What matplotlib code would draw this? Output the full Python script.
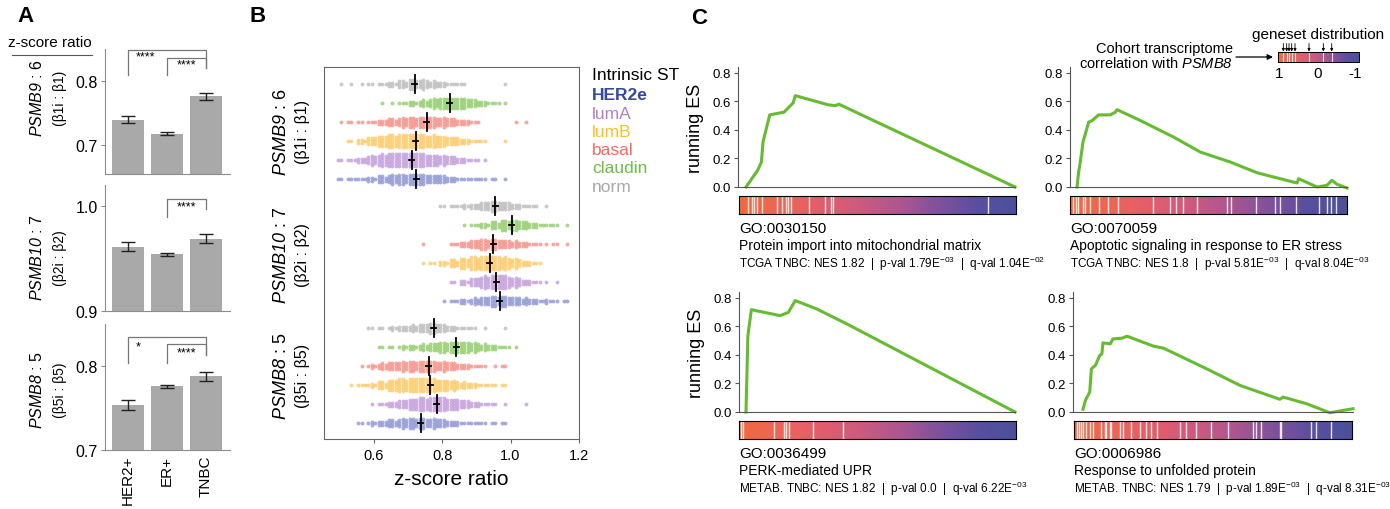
import numpy as np
import matplotlib
matplotlib.use('Agg')
import matplotlib.pyplot as plt
from matplotlib.colors import LinearSegmentedColormap

plt.rcParams['font.family'] = ['Liberation Sans', 'DejaVu Sans']
plt.rcParams['mathtext.fontset'] = 'custom'
plt.rcParams['mathtext.rm'] = 'Liberation Sans'
plt.rcParams['mathtext.it'] = 'Liberation Sans:italic'
plt.rcParams['mathtext.sf'] = 'Liberation Sans:italic'   # used for gene names (italic digits too)
plt.rcParams['mathtext.bf'] = 'Liberation Sans:bold'

W, H = 1390, 510

# ---------------- panel A data (mean z-score ratio +/- sem)
groups_a = ['HER2+', 'ER+', 'TNBC']
psmb9_mean = [0.740, 0.718, 0.776]
psmb9_err = [0.0055, 0.002, 0.005]
psmb10_mean = [0.9615, 0.954, 0.969]
psmb10_err = [0.004, 0.0015, 0.004]
psmb8_mean = [0.754, 0.776, 0.788]
psmb8_err = [0.006, 0.002, 0.005]
sig_a = [[(0, 2, '****'), (1, 2, '****')],
         [(1, 2, '****')],
         [(0, 2, '*'), (1, 2, '****')]]

# ---------------- panel B data (beeswarm, counts per 0.03-wide bin from 0.49)
subtypes = ['norm', 'claudin', 'basal', 'lumB', 'lumA', 'HER2e']   # top -> bottom
bin_lo, bin_w = 0.49, 0.03
counts_psmb9 = [
    [1, 1, 1, 2, 3, 5, 8, 11, 10, 7, 5, 3, 2, 0, 0, 0, 1, 0, 0, 0, 0, 0, 0, 0],
    [0, 0, 0, 0, 1, 1, 3, 5, 7, 10, 12, 12, 11, 8, 5, 3, 1, 0, 0, 0, 0, 0, 0, 0],
    [1, 2, 2, 3, 6, 8, 10, 11, 12, 11, 10, 8, 6, 3, 0, 0, 0, 1, 1, 0, 0, 0, 0, 0],
    [0, 2, 5, 9, 12, 14, 15, 15, 14, 13, 11, 9, 6, 3, 2, 0, 1, 0, 0, 0, 0, 0, 0, 0],
    [2, 3, 6, 10, 13, 15, 15, 15, 14, 12, 10, 8, 5, 3, 1, 0, 0, 0, 0, 0, 0, 0, 0, 0],
    [2, 3, 3, 5, 8, 10, 11, 12, 11, 9, 8, 5, 3, 3, 2, 2, 1, 0, 0, 0, 0, 0, 0, 0],
]
counts_psmb10 = [
    [0, 0, 0, 0, 0, 0, 0, 0, 0, 0, 2, 3, 4, 6, 9, 11, 9, 6, 3, 2, 1, 0, 0, 0],
    [0, 0, 0, 0, 0, 0, 0, 0, 0, 0, 0, 0, 1, 3, 5, 8, 11, 11, 8, 5, 3, 2, 1, 0],
    [0, 0, 0, 0, 0, 0, 0, 0, 1, 0, 0, 3, 6, 9, 11, 11, 9, 7, 5, 3, 1, 2, 1, 0],
    [0, 0, 0, 0, 0, 0, 0, 0, 1, 2, 5, 8, 11, 14, 15, 15, 13, 10, 6, 3, 0, 0, 0, 0],
    [0, 0, 0, 0, 0, 0, 0, 0, 0, 0, 0, 2, 5, 9, 13, 15, 14, 10, 6, 3, 1, 1, 0, 0],
    [0, 0, 0, 0, 0, 0, 0, 0, 0, 0, 1, 3, 5, 7, 9, 11, 11, 9, 7, 5, 4, 2, 2, 0],
]
counts_psmb8 = [
    [0, 0, 0, 2, 2, 4, 6, 7, 9, 11, 8, 5, 3, 2, 1, 0, 1, 0, 0, 0, 0, 0, 0, 0],
    [0, 0, 0, 0, 2, 2, 4, 5, 7, 9, 11, 12, 12, 10, 7, 5, 3, 1, 0, 0, 0, 0, 0, 0],
    [0, 0, 1, 4, 7, 9, 10, 11, 12, 11, 10, 8, 6, 3, 2, 1, 2, 0, 0, 0, 0, 0, 0, 0],
    [0, 1, 3, 4, 8, 12, 14, 15, 15, 14, 12, 10, 7, 5, 3, 2, 2, 0, 0, 0, 0, 0, 0, 0],
    [0, 0, 0, 1, 3, 6, 9, 12, 14, 15, 14, 12, 9, 6, 3, 2, 1, 0, 1, 0, 0, 0, 0, 0],
    [0, 0, 2, 4, 6, 8, 10, 11, 11, 10, 8, 6, 3, 3, 2, 2, 2, 0, 0, 0, 0, 0, 0, 0],
]
median_psmb9 = [0.720, 0.822, 0.755, 0.723, 0.711, 0.725]
median_psmb10 = [0.956, 1.003, 0.950, 0.939, 0.958, 0.968]
median_psmb8 = [0.775, 0.842, 0.761, 0.766, 0.784, 0.737]

# ---------------- panel C data (running enrichment score)
go_ids = ['GO:0030150', 'GO:0070059', 'GO:0036499', 'GO:0006986']
go_terms = ['Protein import into mitochondrial matrix',
            'Apoptotic signaling in response to ER stress',
            'PERK-mediated UPR', 'Response to unfolded protein']
go_stats = [r'TCGA TNBC: NES 1.82  |  p-val 1.79E$^{-03}$  |  q-val 1.04E$^{-02}$',
            r'TCGA TNBC: NES 1.8  |  p-val 5.81E$^{-03}$  |  q-val 8.04E$^{-03}$',
            r'METAB. TNBC: NES 1.82  |  p-val 0.0  |  q-val 6.22E$^{-03}$',
            r'METAB. TNBC: NES 1.79  |  p-val 1.89E$^{-03}$  |  q-val 8.31E$^{-03}$']
es_rank = [
    [0, 0.043, 0.057, 0.063, 0.072, 0.088, 0.127, 0.141, 0.165, 0.175, 0.183, 0.307, 0.332, 0.345, 1.0],
    [0, 0.006, 0.012, 0.022, 0.031, 0.043, 0.056, 0.080, 0.123, 0.142, 0.148, 0.235, 0.358, 0.457,
     0.568, 0.667, 0.753, 0.815, 0.821, 0.889, 0.926, 0.944, 0.963, 1.0],
    [0, 0.007, 0.020, 0.127, 0.158, 0.183, 0.263, 0.375, 1.0],
    [0, 0.009, 0.025, 0.031, 0.046, 0.062, 0.070, 0.074, 0.101, 0.111, 0.145, 0.163, 0.261, 0.298,
     0.458, 0.581, 0.729, 0.741, 0.828, 0.914, 1.0],
]
es_value = [
    [0, 0.117, 0.175, 0.315, 0.385, 0.506, 0.520, 0.525, 0.571, 0.590, 0.641, 0.576, 0.571, 0.581, 0.0],
    [0, 0.105, 0.175, 0.315, 0.373, 0.455, 0.466, 0.506, 0.506, 0.525, 0.543, 0.466, 0.350, 0.245,
     0.175, 0.100, 0.058, 0.028, 0.058, 0.0, 0.012, 0.047, 0.019, -0.007],
    [0, 0.536, 0.718, 0.676, 0.700, 0.782, 0.723, 0.618, 0.0],
    [0.019, 0.082, 0.140, 0.303, 0.327, 0.397, 0.408, 0.485, 0.478, 0.513, 0.518, 0.532, 0.462, 0.448,
     0.303, 0.187, 0.089, 0.105, 0.058, -0.005, 0.023],
]
hit_pos = [
    [0.034, 0.046, 0.054, 0.066, 0.082, 0.136, 0.154, 0.170, 0.178, 0.187, 0.251, 0.309, 0.331, 0.341, 0.898],
    [0.012, 0.022, 0.030, 0.046, 0.054, 0.072, 0.106, 0.138, 0.174, 0.298, 0.361, 0.382, 0.409, 0.457,
     0.565, 0.583, 0.673, 0.739, 0.757, 0.817, 0.899, 0.928, 0.944, 0.962],
    [0.006, 0.016, 0.128, 0.161, 0.171, 0.181, 0.266, 0.374],
    [0.011, 0.018, 0.026, 0.032, 0.044, 0.056, 0.068, 0.098, 0.110, 0.116, 0.128, 0.134, 0.164, 0.176,
     0.206, 0.236, 0.260, 0.278, 0.298, 0.380, 0.404, 0.440, 0.494, 0.554, 0.644, 0.656, 0.674, 0.740,
     0.746, 0.854, 0.872, 0.926],
]
inset_hits = [0.066, 0.107, 0.136, 0.169, 0.21, 0.383, 0.56, 0.663]

# ---------------- figure
fig = plt.figure(figsize=(W / 100, H / 100), dpi=100)


def add_ax(l, t, r, b):
    return fig.add_axes([l / W, 1 - b / H, (r - l) / W, (b - t) / H])


def ftext(x, y, s, **kw):
    fig.text(x / W, 1 - y / H, s, **kw)


ov = fig.add_axes([0, 0, 1, 1])
ov.set_xlim(0, W)
ov.set_ylim(H, 0)
ov.axis('off')

# ===== A
ftext(26, 17, 'A', fontsize=16, fontweight='bold', ha='center', va='center')
ftext(50, 43, 'z-score ratio', fontsize=11, ha='center', va='center')
ov.plot([12, 92], [56, 56], color='#555555', lw=0.8)

a_boxes = [(105, 50, 230, 175), (105, 186, 230, 312), (105, 325, 230, 451)]
a_ylims = [(0.655, 0.85), (0.9, 1.0202), (0.7, 0.8506)]
a_yticks = [[0.7, 0.8], [0.9, 1.0], [0.7, 0.8]]
a_means = [psmb9_mean, psmb10_mean, psmb8_mean]
a_errs = [psmb9_err, psmb10_err, psmb8_err]
# bracket geometry: (top, left leg end, right leg end, label x, label y)
a_geo = [[(0.848, 0.809, 0.820, 0.44, 0.838), (0.836, 0.809, 0.820, 1.49, 0.826)],
         [(1.0067, 0.990, 0.997, 1.49, 1.0)],
         [(0.835, 0.804, 0.813, 0.26, 0.824), (0.8265, 0.804, 0.813, 1.49, 0.817)]]
a_labels = [('PSMB9', '6', r'(β1i : β1)', 98),
            ('PSMB10', '7', r'(β2i : β2)', 258),
            ('PSMB8', '5', r'(β5i : β5)', 390)]
xa = np.arange(3)
for i in range(3):
    ax = add_ax(*a_boxes[i])
    ax.bar(xa, a_means[i], width=0.82, color='#a9a9a9',
           yerr=a_errs[i], capsize=5,
           error_kw=dict(elinewidth=1, capthick=1, ecolor='#222222'))
    ax.set_xlim(-0.59, 2.615)
    ax.set_ylim(*a_ylims[i])
    ax.set_yticks(a_yticks[i])
    ax.set_yticklabels([f'{v:.1f}' for v in a_yticks[i]], fontsize=11.5)
    for s in ['top', 'right']:
        ax.spines[s].set_visible(False)
    for s in ['left', 'bottom']:
        ax.spines[s].set_color('#8c8c8c')
    ax.tick_params(axis='y', length=3, color='#8c8c8c', pad=2)
    ax.tick_params(axis='x', length=0)
    if i < 2:
        ax.set_xticks([])
    else:
        ax.set_xticks(xa)
        ax.set_xticklabels(groups_a, rotation=90, fontsize=11)
    for (g1, g2, lab), (yt, yl, yr, lx, ly) in zip(sig_a[i], a_geo[i]):
        ax.plot([g1, g1, g2, g2], [yl, yt, yt, yr], color='#777777', lw=0.9, clip_on=False)
        ax.text(lx, ly, lab, fontsize=9, ha='center', va='center', clip_on=False)
    gene, num, sub, yc = a_labels[i]
    ftext(37, yc, r'$\mathsf{%s}$ : %s' % (gene, num), rotation=90, fontsize=11.5,
          ha='center', va='center')
    ftext(60, yc, sub, rotation=90, fontsize=10, ha='center', va='center')

# ===== B
ftext(258, 17, 'B', fontsize=16, fontweight='bold', ha='center', va='center')
ax_b = add_ax(324, 68, 579, 440)
dot_colors = ['#b4b4b4', '#86c75a', '#f5837a', '#fcc456', '#bb92d6', '#8189cc']
all_counts = [counts_psmb9, counts_psmb10, counts_psmb8]
all_medians = [median_psmb9, median_psmb10, median_psmb8]
gap = 6.42
dy = 3 / 19
for g in range(3):
    for r in range(6):
        y0 = g * gap + r
        xs, ys = [], []
        for k, c in enumerate(all_counts[g][r]):
            if c == 0:
                continue
            xc = bin_lo + bin_w * (k + 0.5)
            per_col = [c // 3] * 3
            for e in range(c % 3):
                per_col[[1, 0, 2][e]] += 1
            for j, n in enumerate(per_col):
                for m in range(n):
                    xs.append(xc + (j - 1) * bin_w / 3)
                    ys.append(y0 + (m - (n - 1) / 2) * dy)
        ax_b.scatter(xs, ys, s=8, color=dot_colors[r], alpha=0.7, lw=0)
        med = all_medians[g][r]
        ax_b.plot([med, med], [y0 - 0.45, y0 + 0.45], color='k', lw=1.3)
        ax_b.plot([med - 0.007, med + 0.007], [y0, y0], color='k', lw=1.3)
ax_b.set_xlim(0.455, 1.2)
ax_b.set_ylim(2 * gap + 5 + 0.84, -0.895)
ax_b.set_yticks([])
ax_b.set_xticks([0.6, 0.8, 1.0, 1.2])
ax_b.set_xticklabels(['0.6', '0.8', '1.0', '1.2'], fontsize=10.5)
ax_b.tick_params(axis='x', length=3, color='#666666')
for s in ax_b.spines.values():
    s.set_color('#666666')
ftext(451, 480, 'z-score ratio', fontsize=15, ha='center', va='center')
b_labels = [('PSMB9', '6', r'(β1i : β1)', 132),
            ('PSMB10', '7', r'(β2i : β2)', 255),
            ('PSMB8', '5', r'(β5i : β5)', 376)]
for gene, num, sub, yc in b_labels:
    ftext(282, yc, r'$\mathsf{%s}$ : %s' % (gene, num), rotation=90, fontsize=13,
          ha='center', va='center')
    ftext(303, yc, sub, rotation=90, fontsize=11.5, ha='center', va='center')
legend_order = ['HER2e', 'lumA', 'lumB', 'basal', 'claudin', 'norm']
legend_colors = {'HER2e': '#34489f', 'lumA': '#b27fcb', 'lumB': '#fbbf2a',
                 'basal': '#f26b60', 'claudin': '#6dbd45', 'norm': '#a8a8a8'}
ftext(592, 76, 'Intrinsic ST', fontsize=12.5, va='center')
for n, name in enumerate(legend_order):
    ftext(592, 96 + n * 18.2, name, fontsize=12.5, va='center', color=legend_colors[name],
          fontweight='bold' if name == 'HER2e' else 'normal')

# ===== C
ftext(699, 19, 'C', fontsize=16, fontweight='bold', ha='center', va='center')
cmap = LinearSegmentedColormap.from_list(
    'gs', ['#f2693e', '#ee6557', '#e45d6b', '#cf5a7e', '#ae578f', '#81519d', '#5a4f9e', '#4a519a'])
grad = np.linspace(0, 1, 256)[None, :]
c_boxes = [(738, 68, 1015, 188), (1070, 68, 1347, 188), (739, 293, 1015, 413), (1073, 293, 1353, 413)]
c_xl = [-0.030, -0.026, -0.026, -0.037]
c_bars = [(739, 197, 1016, 215), (1070, 197, 1347, 215), (739, 422, 1016, 440), (1074, 422, 1352, 440)]
for i in range(4):
    ax = add_ax(*c_boxes[i])
    ax.plot(es_rank[i], es_value[i], color='#66bb33', lw=2.2, clip_on=False, solid_joinstyle='round')
    ax.set_xlim(c_xl[i], 1.0)
    ax.set_ylim(0, 0.842)
    ax.set_yticks([0, 0.2, 0.4, 0.6, 0.8])
    ax.set_yticklabels(['0.0', '0.2', '0.4', '0.6', '0.8'], fontsize=9.5)
    ax.set_xticks([])
    for s in ['top', 'right']:
        ax.spines[s].set_visible(False)
    ax.spines['left'].set_color('#555555')
    ax.spines['bottom'].set_color('#555555')
    ax.tick_params(axis='y', length=3, color='#555555', pad=2)
    if i in (0, 2):
        ax.set_ylabel('running ES', fontsize=13, labelpad=6)
    cb = add_ax(*c_bars[i])
    cb.imshow(grad, aspect='auto', cmap=cmap, extent=(0, 1, 0, 1))
    cb.vlines(hit_pos[i], 0, 1, color='white', lw=1, alpha=0.85)
    cb.set_xlim(0, 1)
    cb.set_ylim(0, 1)
    cb.set_xticks([])
    cb.set_yticks([])
    for s in cb.spines.values():
        s.set_linewidth(0.8)
    tx = c_bars[i][0]
    ty = c_bars[i][3]
    ftext(tx, ty + 14, go_ids[i], fontsize=11, va='center')
    ftext(tx, ty + 31, go_terms[i], fontsize=10, va='center')
    ftext(tx, ty + 49, go_stats[i], fontsize=8.5, va='center')

# inset legend for the geneset distribution
ax_in = add_ax(1278, 53, 1359, 63)
ax_in.imshow(grad, aspect='auto', cmap=cmap, extent=(0, 1, 0, 1))
ax_in.vlines(inset_hits, 0, 1, color='white', lw=0.8, alpha=0.85)
ax_in.set_xlim(0, 1)
ax_in.set_ylim(0, 1)
ax_in.set_xticks([])
ax_in.set_yticks([])
for s in ax_in.spines.values():
    s.set_linewidth(0.7)
for h in inset_hits:
    ax_in.annotate('', xy=(h, 1.05), xycoords=('data', 'axes fraction'),
                   xytext=(h, 1.85), textcoords=('data', 'axes fraction'),
                   arrowprops=dict(arrowstyle='-|>', lw=0.6, color='k', mutation_scale=4,
                                   shrinkA=0, shrinkB=0))
ftext(1318, 35, 'geneset distribution', fontsize=11, ha='center', va='center')
for lab, xx in zip(['1', '0', '-1'], [1279, 1318, 1355]):
    ftext(xx, 74, lab, fontsize=11, ha='center', va='center')
ftext(1233, 49, 'Cohort transcriptome', fontsize=10.5, ha='right', va='center')
ftext(1233, 63, r'correlation with $\mathsf{PSMB8}$', fontsize=10.5, ha='right', va='center')
ov.annotate('', xy=(1273, 58), xytext=(1236, 58),
            arrowprops=dict(arrowstyle='-|>', lw=0.9, color='k', mutation_scale=8,
                            shrinkA=0, shrinkB=0))

fig.savefig('out.png', dpi=100)
